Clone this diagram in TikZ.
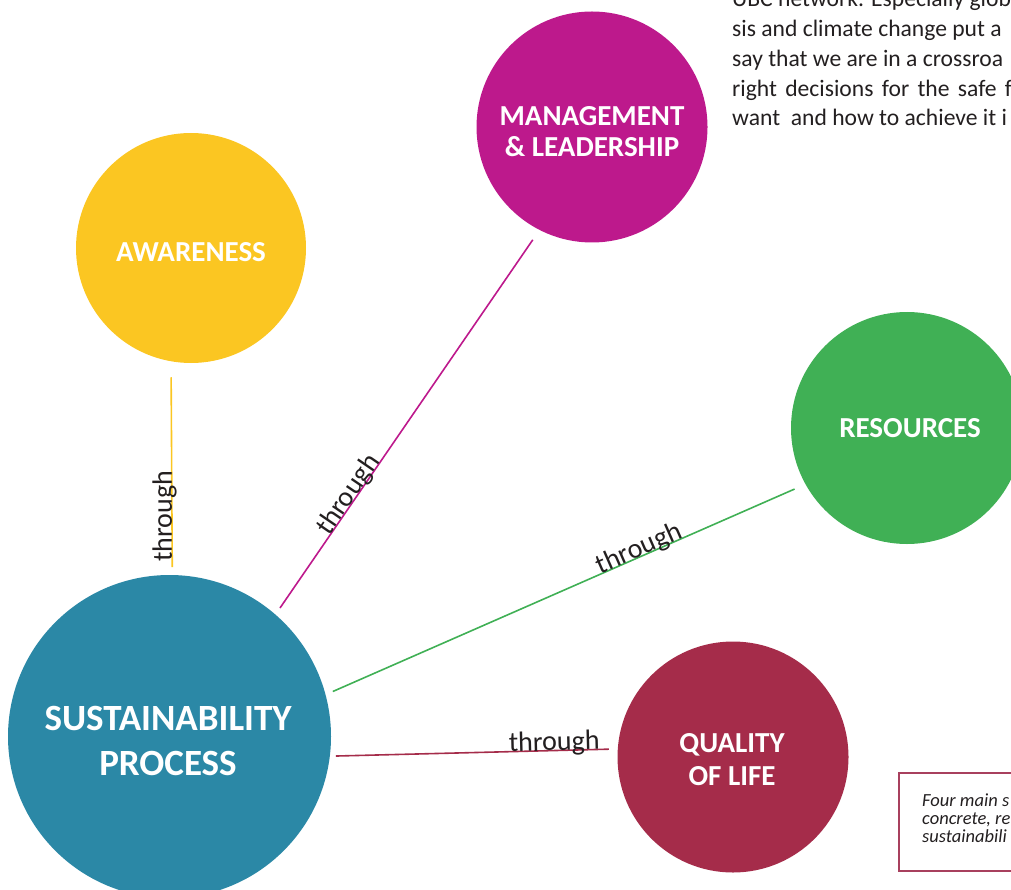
\documentclass[tikz,border=0pt]{standalone}
\usepackage{fontspec}
\setmainfont{Carlito}
\definecolor{cyaw}{HTML}{FBC622}
\definecolor{cmag}{HTML}{BD198C}
\definecolor{cgrn}{HTML}{40B055}
\definecolor{cteal}{HTML}{2B88A6}
\definecolor{cred}{HTML}{A52C4A}
\definecolor{ctxt}{HTML}{231F20}
\definecolor{cbox}{HTML}{A8405E}
\begin{document}
\begin{tikzpicture}[x=1pt,y=-1pt,
  bubble/.style={circle, inner sep=0pt, outer sep=0pt, draw=none},
  btxt/.style={text=white, anchor=base, inner sep=0pt, font=\fontsize{29}{31}\selectfont\bfseries},
  bigtxt/.style={btxt, font=\fontsize{37}{40}\selectfont\bfseries},
  link/.style={line width=1.6pt},
  thr/.style={font=\fontsize{28}{30}\selectfont, text=ctxt, anchor=base, inner sep=0pt},
  para/.style={font=\fontsize{23.6}{30}\selectfont, text=ctxt, anchor=base west, inner sep=0pt},
  note/.style={font=\fontsize{18.5}{18}\selectfont\itshape, text=ctxt, anchor=base west, inner sep=0pt}]
\path[use as bounding box] (0,0) rectangle (1011,890);
\clip (0,0) rectangle (1011,890);

% circles
\node[bubble, fill=cyaw, minimum size=230pt] (aw) at (191,248) {};
\node[bubble, fill=cmag, minimum size=231pt] (mg) at (592,127) {};
\node[bubble, fill=cgrn, minimum size=232pt] (rs) at (907,428) {};
\node[bubble, fill=cteal, minimum size=323pt] (sp) at (169.5,736.5) {};
\node[bubble, fill=cred, minimum size=231pt] (ql) at (733,757) {};

% circle labels
\node[btxt] (awt) at (191,262) {AWARENESS};
\node[btxt] (mgt1) at (592,126) {MANAGEMENT};
\node[btxt] (mgt2) at (592,157) {\& LEADERSHIP};
\node[btxt] (rst) at (910,437) {RESOURCES};
\node[bigtxt] (spt1) at (168,730) {SUSTAINABILITY};
\node[bigtxt] (spt2) at (168,775) {PROCESS};
\node[btxt] (qlt1) at (732,752) {QUALITY};
\node[btxt] (qlt2) at (732,785) {OF LIFE};

% connectors
\draw[link, draw=cyaw, shorten <=8pt, shorten >=16pt] (sp.89) -- node[thr, rotate=90, pos=0.276] {through} (aw.260);
\draw[link, draw=cmag, shorten <=8pt, shorten >=12pt] (sp.49.5) -- node[thr, sloped, pos=0.30] {through} (mg.243.8);
\draw[link, draw=cgrn, shorten <=8pt, shorten >=12pt] (sp.15.2) -- node[thr, sloped, pos=0.66] {through} (rs.209.2);
\draw[link, draw=cred, shorten <=6pt, shorten >=9pt] (sp.-7) -- node[thr, sloped, pos=0.78] {through} (ql.176.8);

% paragraph text (cut off at the edge)
\node[para] (p1) at (732,7) {UBC network. Especially glob};
\node[para] (p2) at (732,37) {sis and climate change put a};
\node[para] (p3) at (732,67) {say that we are in a crossroa};
\node[para] (p4) at (732,97) {right\hspace{8.3pt}decisions\hspace{8.3pt}for\hspace{8.3pt}the\hspace{8.3pt}safe\hspace{8.3pt}f};
\node[para] (p5) at (732,126) {want\ \ and how to achieve it i};

% caption box
\draw[draw=cbox, line width=1.1pt] (899,773) rectangle (1030,871);
\node[note] (n1) at (922,806) {Four main s};
\node[note] (n2) at (922,824) {concrete, re};
\node[note] (n3) at (922,842) {sustainabili};
\end{tikzpicture}
\end{document}
